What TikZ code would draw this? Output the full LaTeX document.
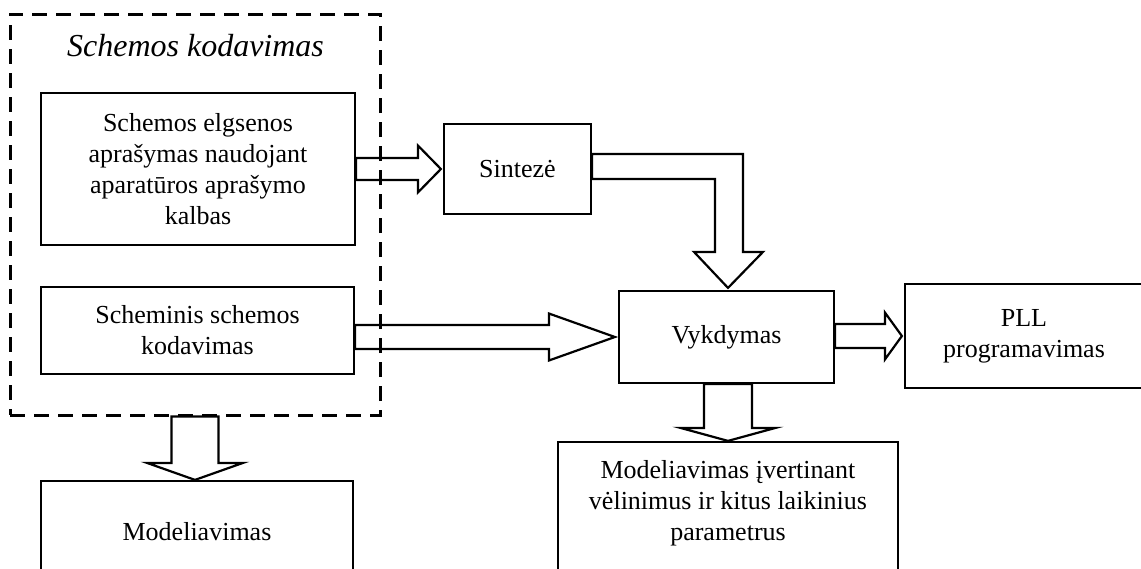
\documentclass[tikz,border=0pt]{standalone}
\usepackage{fontspec}
\setmainfont{Liberation Serif}
\usetikzlibrary{positioning,calc}

\begin{document}
\begin{tikzpicture}[x=0.5pt, y=-0.5pt,
  block/.style={draw, line width=1.1pt, inner sep=0pt, align=center,
                font=\fontsize{13}{15.5}\selectfont},
  txt/.style={inner sep=0pt, align=center, font=\fontsize{13}{15.5}\selectfont},
  group/.style={draw, line width=1.5pt, dash pattern=on 7.5pt off 4.5pt,
                inner sep=0pt},
  hollow/.style={draw, line width=1.1pt, line join=miter}
]
\useasboundingbox (0,0) rectangle (1141,568);

% Schemos kodavimas (dashed group)
\node[group, minimum width=185pt, minimum height=200.5pt] (kod) at (195,214.5) {};
\node[txt, font=\fontsize{16}{19}\selectfont\itshape] (kodtitle) at (195.5,46)
     {Schemos kodavimas};

% Inner blocks
\node[block, minimum width=157pt, minimum height=76pt] (elg) at (198,169)
     {Schemos elgsenos\\aprašymas naudojant\\aparatūros aprašymo\\kalbas};
\node[block, minimum width=156.5pt, minimum height=43.5pt] (schem) at (197.5,330.5)
     {Scheminis schemos\\kodavimas};

% Sinteze and Vykdymas
\node[block, minimum width=73.5pt, minimum height=45pt] (sint) at (517.5,169) {Sintezė};
\node[block, minimum width=107.5pt, minimum height=46pt] (vyk) at (726.5,337) {Vykdymas};

% PLL
\node[block, minimum width=119pt, minimum height=52pt] (pll) at (1024,336)
     {PLL\\programavimas};

% Modeliavimas
\node[block, minimum width=156pt, minimum height=51pt] (model) at (197,532) {Modeliavimas};

% Modeliavimas su veliniais
\node[block, minimum width=170pt, minimum height=74pt] (mvel) at (728,516) {};
\node[txt] (mveltxt) at (728,503)
     {Modeliavimas įvertinant\\vėlinimus ir kitus laikinius\\parametrus};

% elg -> sint
\draw[hollow] ($(elg.east |- sint.west)+(0,-11)$) -- ($(sint.west)+(-25,-11)$)
  -- ($(sint.west)+(-25,-23.5)$) -- ($(sint.west)+(-2,0)$)
  -- ($(sint.west)+(-25,23.5)$) -- ($(sint.west)+(-25,11)$)
  -- ($(elg.east |- sint.west)+(0,11)$) -- cycle;

% schem -> vyk
\draw[hollow] ($(schem.east |- vyk.west)+(0,-12)$) -- ($(vyk.west)+(-69,-12)$)
  -- ($(vyk.west)+(-69,-23.5)$) -- ($(vyk.west)+(-3,0)$)
  -- ($(vyk.west)+(-69,23.5)$) -- ($(vyk.west)+(-69,12)$)
  -- ($(schem.east |- vyk.west)+(0,12)$) -- cycle;

% sint -> vyk
\coordinate (sinttop) at ($(sint.east)+(0,-15)$);
\coordinate (sintbot) at ($(sint.east)+(0,10)$);
\coordinate (vyktip) at ($(vyk.north)+(1.5,-2)$);
\draw[hollow] (sinttop) -- ($(sinttop -| vyktip)+(15,0)$)
  -- ($(vyktip)+(15,-36)$) -- ($(vyktip)+(35,-36)$) -- (vyktip)
  -- ($(vyktip)+(-34,-36)$) -- ($(vyktip)+(-13,-36)$)
  -- ($(sintbot -| vyktip)+(-13,0)$) -- (sintbot) -- cycle;

% vyk -> pll
\draw[hollow] ($(vyk.east)+(0,-13)$) -- ($(pll.west |- vyk.east)+(-19,-13)$)
  -- ($(pll.west |- vyk.east)+(-19,-24.5)$) -- ($(pll.west |- vyk.east)+(-2,-1)$)
  -- ($(pll.west |- vyk.east)+(-19,22.5)$) -- ($(pll.west |- vyk.east)+(-19,11)$)
  -- ($(vyk.east)+(0,11)$) -- cycle;

% vyk -> mvel
\draw[hollow] ($(mvel.north |- vyk.south)+(-24,0)$) -- ($(mvel.north)+(-24,-13)$)
  -- ($(mvel.north)+(-47.5,-13)$) -- (mvel.north)
  -- ($(mvel.north)+(47.5,-13)$) -- ($(mvel.north)+(24,-13)$)
  -- ($(mvel.north |- vyk.south)+(24,0)$) -- cycle;

% kod -> model
\draw[hollow] ($(kod.south)+(-23.5,0)$) -- ($(kod.south |- model.north)+(-23.5,-17)$)
  -- ($(kod.south |- model.north)+(-48,-17)$) -- (kod.south |- model.north)
  -- ($(kod.south |- model.north)+(48,-17)$) -- ($(kod.south |- model.north)+(23.5,-17)$)
  -- ($(kod.south)+(23.5,0)$) -- cycle;

\end{tikzpicture}
\end{document}
